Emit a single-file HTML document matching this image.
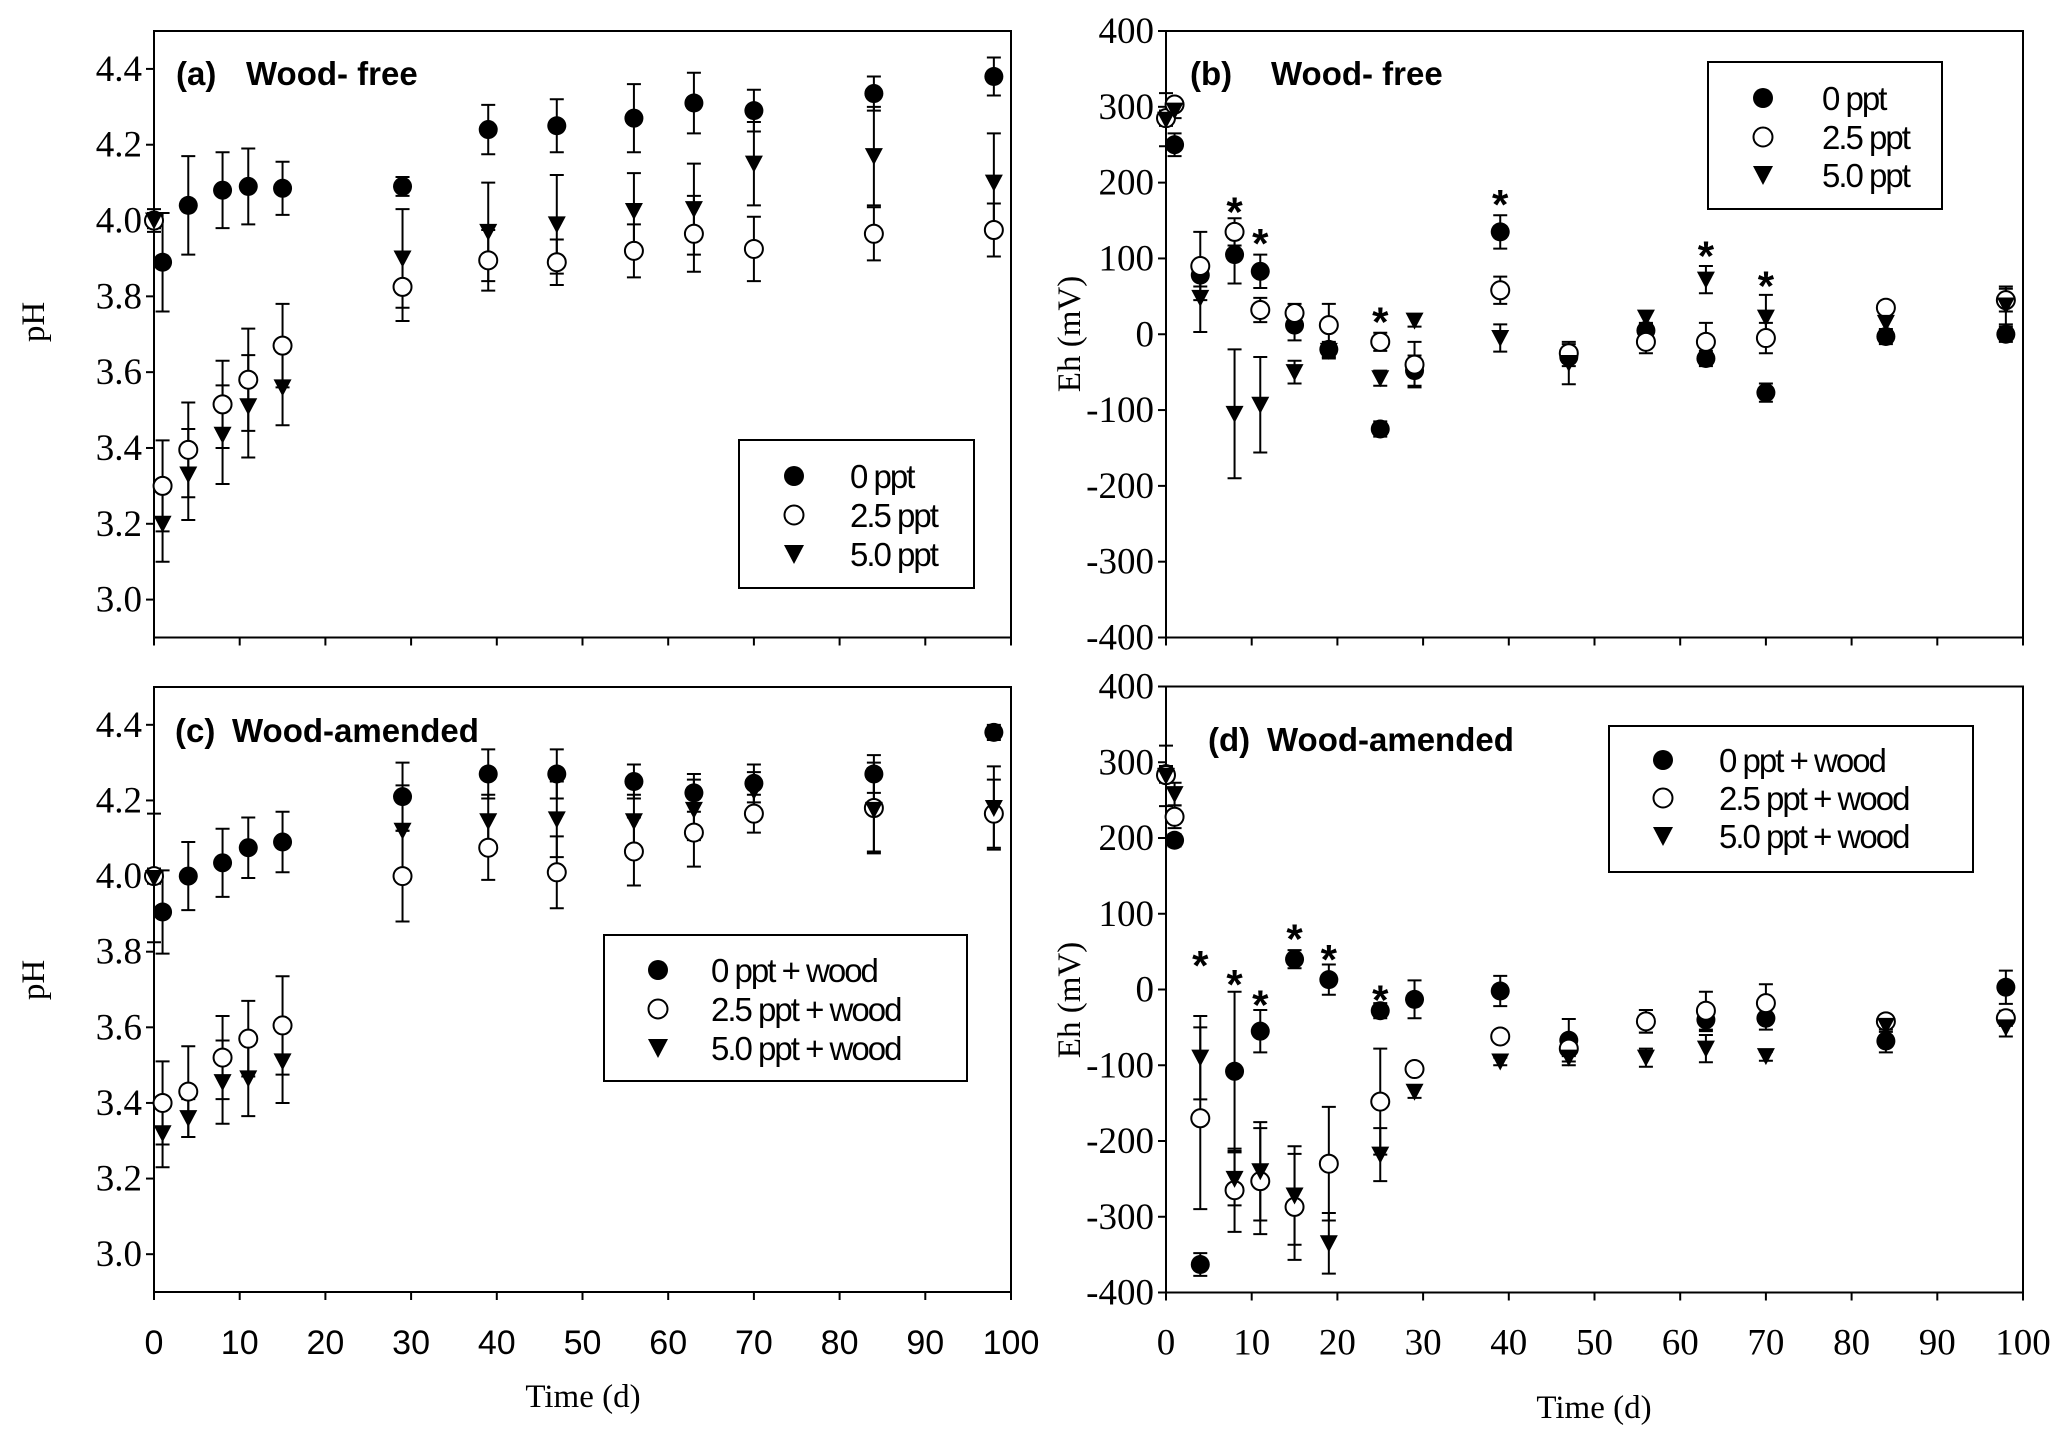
<!DOCTYPE html>
<html><head><meta charset="utf-8">
<style>
html,body{margin:0;padding:0;background:#fff;}
svg{display:block;}
.tl{font-family:"Liberation Serif",serif;font-size:37px;fill:#000;}
.ts{font-family:"Liberation Sans",sans-serif;font-size:34px;fill:#000;}
.tt{font-family:"Liberation Sans",sans-serif;font-size:33px;font-weight:bold;fill:#000;}
.st{font-family:"Liberation Sans",sans-serif;font-size:42px;font-weight:bold;fill:#000;}
.lg{font-family:"Liberation Sans",sans-serif;font-size:33px;fill:#000;letter-spacing:-2px;}
.ax{font-family:"Liberation Serif",serif;font-size:33px;fill:#000;}
</style></head>
<body>
<svg id="fig" width="2067" height="1443" viewBox="0 0 2067 1443" xmlns="http://www.w3.org/2000/svg"></svg>
<script>
const days = [0,1,4,8,11,15,29,39,47,56,63,70,84,98];
const ehDays = [0,1,4,8,11,15,19,25,29,39,47,56,63,70,84,98];
// Panel a: pH wood-free
const aPh0 = [4.0,3.89,4.04,4.08,4.09,4.085,4.09,4.24,4.25,4.27,4.31,4.29,4.335,4.38];
const aPh0Err = [0.02,0.13,0.13,0.1,0.1,0.07,0.025,0.065,0.07,0.09,0.08,0.055,0.045,0.05];
const aPh25 = [4.0,3.30,3.395,3.515,3.58,3.67,3.825,3.895,3.89,3.92,3.965,3.925,3.965,3.975];
const aPh25Err = [0.03,0.12,0.125,0.115,0.135,0.11,0.09,0.08,0.06,0.07,0.1,0.085,0.07,0.07];
const aPh50 = [4.0,3.20,3.33,3.435,3.51,3.56,3.90,3.97,3.99,4.025,4.03,4.15,4.17,4.10];
const aPh50Err = [0.02,0.1,0.12,0.13,0.135,0.1,0.13,0.13,0.13,0.1,0.12,0.11,0.13,0.13];
// Panel c: pH wood-amended
const cPh0 = [4.0,3.905,4.0,4.035,4.075,4.09,4.21,4.27,4.27,4.25,4.22,4.245,4.27,4.38];
const cPh0Err = [0.02,0.11,0.09,0.09,0.08,0.08,0.09,0.065,0.065,0.045,0.05,0.05,0.05,0.02];
const cPh25 = [4.0,3.40,3.43,3.52,3.57,3.605,4.0,4.075,4.01,4.065,4.115,4.165,4.18,4.165];
const cPh25Err = [0.02,0.11,0.12,0.11,0.1,0.13,0.12,0.085,0.095,0.09,0.09,0.05,0.12,0.09];
const cPh50 = [3.995,3.32,3.36,3.455,3.465,3.51,4.12,4.145,4.15,4.145,4.175,4.225,4.175,4.18];
const cPh50Err = [0.17,0.09,0.05,0.11,0.1,0.11,0.12,0.07,0.1,0.07,0.08,0.05,0.11,0.11];
// Panel b: Eh wood-free
const bEh0 = [285,250,78,105,83,12,-20,-125,-48,135,-30,5,-32,-77,-3,0];
const bEh0Err = [10,15,15,38,22,20,10,10,20,22,12,10,10,12,10,10];
const bEh25 = [285,303,90,135,32,28,12,-10,-40,58,-25,-10,-10,-5,35,45];
const bEh25Err = [10,8,45,18,16,12,28,12,30,18,12,15,25,20,8,15];
const bEh50 = [283,295,48,-105,-93,-50,-22,-58,18,-5,-38,22,72,22,15,38];
const bEh50Err = [35,10,45,85,63,15,10,10,8,18,28,8,18,30,10,25];
const bStarDays = [8,11,25,39,63,70];
const bStarVals = [170,128,25,180,112,72];
// Panel d: Eh wood-amended
const dEh0 = [285,197,-363,-108,-55,40,13,-28,-13,-2,-67,-42,-40,-38,-68,3];
const dEh0Err = [10,8,15,105,28,12,20,10,25,20,28,15,15,15,15,22];
const dEh25 = [283,228,-170,-265,-253,-287,-230,-148,-105,-62,-78,-42,-28,-18,-42,-38];
const dEh25Err = [10,15,120,55,70,70,75,70,5,5,10,15,25,25,8,10];
const dEh50 = [282,258,-90,-250,-240,-272,-335,-218,-135,-95,-90,-90,-78,-88,-48,-50];
const dEh50Err = [40,15,55,35,65,65,40,35,8,5,10,12,18,6,8,12];
const dStarDays = [4,8,11,15,19,25];
const dStarVals = [40,15,-12,75,48,-5];

const xTicks = [0,10,20,30,40,50,60,70,80,90,100];
const phTicks = [3.0,3.2,3.4,3.6,3.8,4.0,4.2,4.4];
const ehTicks = [-400,-300,-200,-100,0,100,200,300,400];

const NS = "http://www.w3.org/2000/svg";
const svg = document.getElementById('fig');
function mk(tag, attrs, parent){
  const e = document.createElementNS(NS, tag);
  for (const k in attrs) e.setAttribute(k, attrs[k]);
  (parent||svg).appendChild(e);
  return e;
}

function panel(p){
  const g = mk('g', {});
  
  
  const X = v => p.x0 + (v - 0) / 100 * (p.x1 - p.x0);
  const Y = v => p.yb + (v - p.ymin) / (p.ymax - p.ymin) * (p.yt - p.yb);
  const frame = mk('rect', {x:p.x0, y:p.yt, width:p.x1-p.x0, height:p.yb-p.yt, fill:'none', stroke:'#000', 'stroke-width':2}, g);
  
  
  p.yTicks.forEach(t => {
    const tk = mk('line', {x1:p.x0-8, x2:p.x0, y1:Y(t), y2:Y(t), stroke:'#000','stroke-width':2}, g);
    
    
    const lb = mk('text', {x:p.x0-12, y:Y(t)+12, 'text-anchor':'end', class:'tl'}, g);
    
    
    lb.textContent = p.fmt(t);
  });
  xTicks.forEach(t => {
    const tk = mk('line', {x1:X(t), x2:X(t), y1:p.yb, y2:p.yb+8, stroke:'#000','stroke-width':2}, g);
    
    
    if (p.xLabels) {
      const lb = mk('text', {x:X(t), y:p.yb+62, 'text-anchor':'middle', class:p.xCls}, g);
      
      
      lb.textContent = t;
    }
  });
  if (p.xTitle) {
    const xt = mk('text', {x:p.xTitle[0], y:p.xTitle[1], 'text-anchor':'middle', class:'ax'}, g);
    
    
    xt.textContent = 'Time (d)';
  }
  const yt = mk('text', {x:0, y:0, 'text-anchor':'middle', class:'ax', transform:`translate(${p.yTitle[0]},${p.yTitle[1]}) rotate(-90)`}, g);
  
  
  yt.textContent = p.yTitleText;
  const t1 = mk('text', {x:p.title[0], y:p.title[1], class:'tt'}, g);
  
  
  t1.textContent = p.titleLabel;
  const t2 = mk('text', {x:p.title[2], y:p.title[1], class:'tt'}, g);
  
  
  t2.textContent = p.titleText;
  p.series.forEach(s => {
    s.vals.forEach((v, i) => {
      const x = X(p.xs[i]), e = s.err[i];
      const eb = mk('path', {d:`M${x},${Y(v-e)}V${Y(v+e)}M${x-7},${Y(v-e)}H${x+7}M${x-7},${Y(v+e)}H${x+7}`, stroke:'#000','stroke-width':2, fill:'none'}, g);
      
      
    });
  });
  p.series.forEach(s => {
    s.vals.forEach((v, i) => {
      const x = X(p.xs[i]), y = Y(v);
      let m;
      if (s.shape === 'fc') m = mk('circle', {cx:x, cy:y, r:9.5, fill:'#000'}, g);
      else if (s.shape === 'oc') m = mk('circle', {cx:x, cy:y, r:9, fill:'#fff', stroke:'#000','stroke-width':2}, g);
      else m = mk('path', {d:`M${x-9},${y-8}H${x+9}L${x},${y+9}Z`, fill:'#000'}, g);
      
      
    });
  });
  if (p.stars) {
    p.stars[0].forEach((d, i) => {
      const st = mk('text', {x:X(d), y:Y(p.stars[1][i])+21, 'text-anchor':'middle', class:'st'}, g);
      
      
      st.textContent = '*';
    });
  }
  const L = p.legend;
  const lr = mk('rect', {x:L.x, y:L.y, width:L.w, height:L.h, fill:'#fff', stroke:'#000', 'stroke-width':2}, g);
  
  
  p.series.forEach((s, i) => {
    const y = L.ys[i], x = L.mx;
    let m;
    if (s.shape === 'fc') m = mk('circle', {cx:x, cy:y, r:10, fill:'#000'}, g);
    else if (s.shape === 'oc') m = mk('circle', {cx:x, cy:y, r:9.5, fill:'#fff', stroke:'#000','stroke-width':2}, g);
    else m = mk('path', {d:`M${x-10},${y-9}H${x+10}L${x},${y+10}Z`, fill:'#000'}, g);
    
    
    const t = mk('text', {x:L.tx, y:y+12, class:'lg'}, g);
    
    
    t.textContent = L.labels[i];
  });
}

const phFmt = t => t.toFixed(1);
const ehFmt = t => String(t);

panel({name:'panel-a-ph-wood-free', x0:154, x1:1011, yt:31, yb:637.5, ymin:2.9, ymax:4.5, yTicks:phTicks, fmt:phFmt, xs:days,
  xLabels:false, yTitle:[44,322], yTitleText:'pH', title:[176,85,246], titleLabel:'(a)', titleText:'Wood- free',
  series:[{vals:aPh0,err:aPh0Err,shape:'fc',mname:'point-0ppt'},{vals:aPh25,err:aPh25Err,shape:'oc',mname:'point-2.5ppt'},{vals:aPh50,err:aPh50Err,shape:'tri',mname:'point-5.0ppt'}],
  legend:{x:739,y:440,w:235,h:148,ys:[476,515,554],mx:794,tx:850,labels:['0 ppt','2.5 ppt','5.0 ppt']}});

panel({name:'panel-c-ph-wood-amended', x0:154, x1:1011, yt:687, yb:1292, ymin:2.9, ymax:4.5, yTicks:phTicks, fmt:phFmt, xs:days,
  xLabels:true, xCls:'ts', xTitle:[583,1407], yTitle:[44,980], yTitleText:'pH', title:[175,742,232], titleLabel:'(c)', titleText:'Wood-amended',
  series:[{vals:cPh0,err:cPh0Err,shape:'fc',mname:'point-0ppt-wood'},{vals:cPh25,err:cPh25Err,shape:'oc',mname:'point-2.5ppt-wood'},{vals:cPh50,err:cPh50Err,shape:'tri',mname:'point-5.0ppt-wood'}],
  legend:{x:604,y:935,w:363,h:146,ys:[970,1009,1048],mx:658,tx:711,labels:['0 ppt + wood','2.5 ppt + wood','5.0 ppt + wood']}});

panel({name:'panel-b-eh-wood-free', x0:1166, x1:2023, yt:31, yb:637.5, ymin:-400, ymax:400, yTicks:ehTicks, fmt:ehFmt, xs:ehDays,
  xLabels:false, yTitle:[1080,334], yTitleText:'Eh (mV)', title:[1190,85,1271], titleLabel:'(b)', titleText:'Wood- free', stars:[bStarDays,bStarVals],
  series:[{vals:bEh0,err:bEh0Err,shape:'fc',mname:'point-0ppt'},{vals:bEh25,err:bEh25Err,shape:'oc',mname:'point-2.5ppt'},{vals:bEh50,err:bEh50Err,shape:'tri',mname:'point-5.0ppt'}],
  legend:{x:1708,y:62,w:234,h:147,ys:[98,137,175],mx:1763,tx:1822,labels:['0 ppt','2.5 ppt','5.0 ppt']}});

panel({name:'panel-d-eh-wood-amended', x0:1166, x1:2023, yt:686.5, yb:1292.5, ymin:-400, ymax:400, yTicks:ehTicks, fmt:ehFmt, xs:ehDays,
  xLabels:true, xCls:'tl', xTitle:[1594,1418], yTitle:[1080,1000], yTitleText:'Eh (mV)', title:[1208,751,1267], titleLabel:'(d)', titleText:'Wood-amended', stars:[dStarDays,dStarVals],
  series:[{vals:dEh0,err:dEh0Err,shape:'fc',mname:'point-0ppt-wood'},{vals:dEh25,err:dEh25Err,shape:'oc',mname:'point-2.5ppt-wood'},{vals:dEh50,err:dEh50Err,shape:'tri',mname:'point-5.0ppt-wood'}],
  legend:{x:1609,y:726,w:364,h:146,ys:[760,798,836],mx:1663,tx:1719,labels:['0 ppt + wood','2.5 ppt + wood','5.0 ppt + wood']}});
</script>
</body></html>
